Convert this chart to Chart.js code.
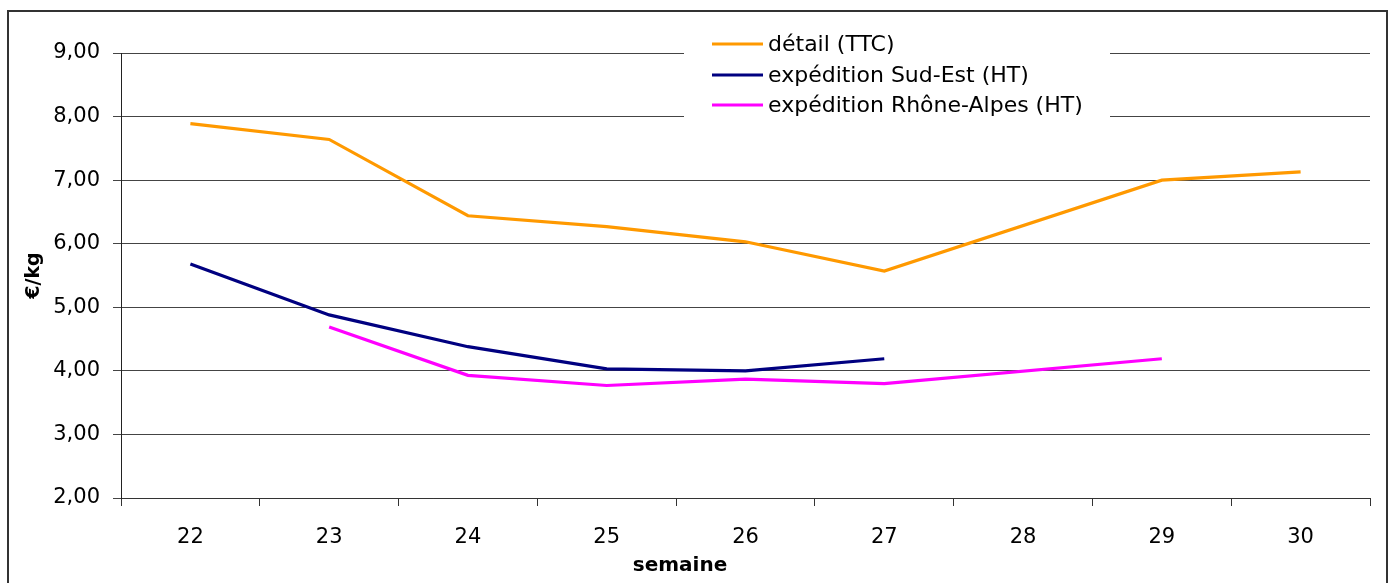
<!DOCTYPE html>
<html lang="fr">
<head>
  <meta charset="UTF-8">
  <title>Prix semaine</title>
  <script src="https://cdn.jsdelivr.net/npm/chart.js@4/dist/chart.umd.min.js"></script>
  <style>
    body { margin: 0; background: #fff; }
  </style>
</head>
<body>

<canvas id="chart" width="1392" height="583"></canvas>

<script>
const semaines = ['22', '23', '24', '25', '26', '27', '28', '29', '30'];
const detail = [7.89, 7.64, 6.44, 6.27, 6.03, 5.57, null, 7.00, 7.13];
const sudEst = [5.68, 4.88, 4.38, 4.03, 4.00, 4.19, null, null, null];
const rhoneAlpes = [null, 4.69, 3.93, 3.77, 3.87, 3.80, null, 4.19, null];
const yTicks = [2, 3, 4, 5, 6, 7, 8, 9];

const police = 'DejaVu Sans, Liberation Sans, sans-serif';

// cadre, légende et titre de l'axe x
const deco = {
  id: 'deco',
  afterDraw(chart) {
    const ctx = chart.ctx;
    ctx.save();
    ctx.strokeStyle = '#333';
    ctx.lineWidth = 2;
    ctx.strokeRect(8, 11, 1379, 600);

    ctx.fillStyle = '#fff';
    ctx.fillRect(684, 26, 426, 102);
    const ys = [44, 75, 105];
    ctx.font = '22px ' + police;
    ctx.textBaseline = 'middle';
    chart.data.datasets.forEach((ds, i) => {
      ctx.strokeStyle = ds.borderColor;
      ctx.lineWidth = 3;
      ctx.beginPath();
      ctx.moveTo(712, ys[i]);
      ctx.lineTo(763, ys[i]);
      ctx.stroke();
      ctx.fillStyle = '#000';
      ctx.fillText(ds.label, 768, ys[i] + 1);
    });

    ctx.font = 'bold 20px ' + police;
    ctx.textAlign = 'center';
    ctx.fillText('semaine', 680, 566);
    ctx.restore();
  }
};

new Chart(document.getElementById('chart'), {
  type: 'line',
  data: {
    labels: semaines,
    datasets: [
      { label: 'détail (TTC)', data: detail, borderColor: '#FF9900' },
      { label: 'expédition Sud-Est (HT)', data: sudEst, borderColor: '#000080' },
      { label: 'expédition Rhône-Alpes (HT)', data: rhoneAlpes, borderColor: '#FF00FF' }
    ]
  },
  options: {
    responsive: false,
    animation: false,
    spanGaps: true,
    layout: { padding: { left: 8, top: 53, right: 22, bottom: 0 } },
    elements: {
      line: { borderWidth: 3.2, tension: 0 },
      point: { radius: 0, hoverRadius: 0 }
    },
    plugins: {
      legend: { display: false },
      tooltip: { enabled: false }
    },
    scales: {
      x: {
        offset: true,
        afterFit: s => { s.height = 85; },
        grid: { offset: true, drawOnChartArea: false, color: '#333', tickLength: 8 },
        border: { color: '#333' },
        ticks: { color: '#000', font: { family: police, size: 21 }, padding: 19, maxRotation: 0 }
      },
      y: {
        min: 2,
        max: 9,
        afterFit: s => { s.width = 113; },
        afterBuildTicks: s => { s.ticks = yTicks.map(v => ({ value: v })); },
        grid: { color: '#444', tickLength: 8 },
        border: { color: '#222' },
        ticks: {
          color: '#000',
          font: { family: police, size: 21 },
          padding: 13,
          callback: v => v.toFixed(2).replace('.', ',')
        },
        title: {
          display: true,
          text: '€/kg',
          color: '#000',
          font: { family: police, size: 19, weight: 'bold' },
          padding: { top: 15, bottom: 0 }
        }
      }
    }
  },
  plugins: [deco]
});
</script>
</body>
</html>
